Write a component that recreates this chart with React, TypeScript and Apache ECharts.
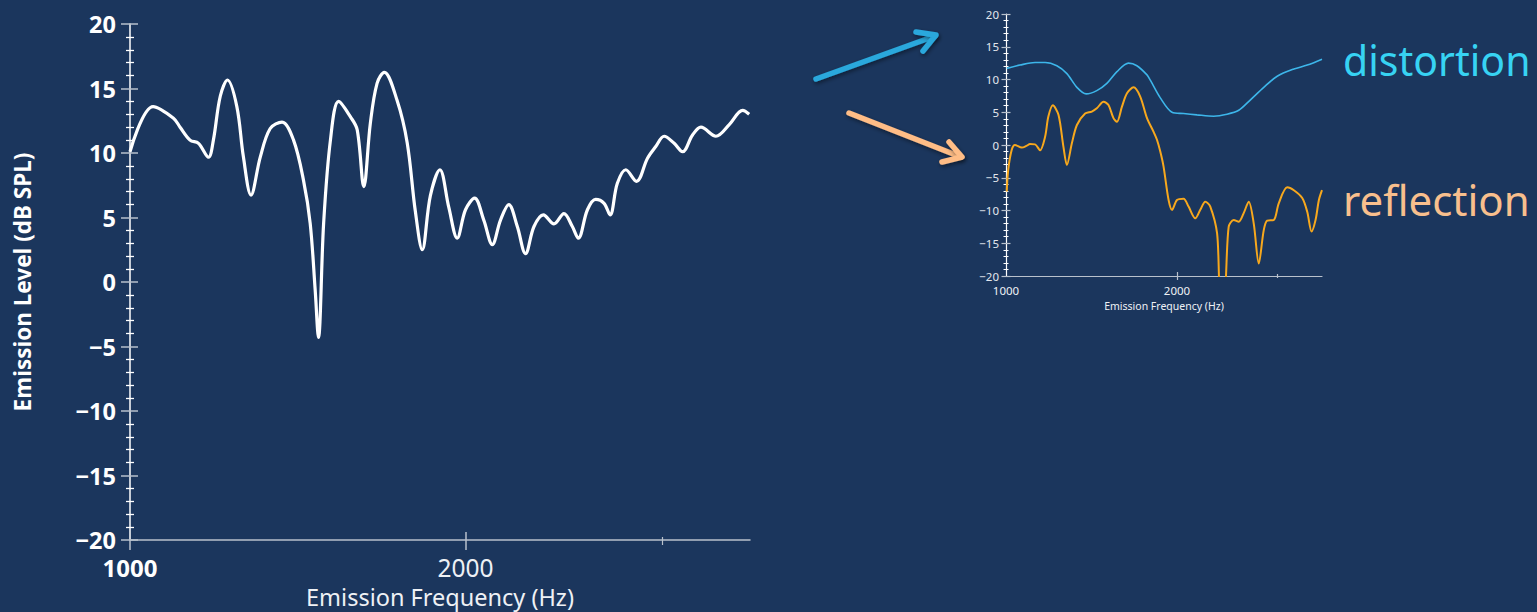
import React, { useEffect, useRef } from "react";
import * as echarts from "echarts";

// Main (left) chart: total emission
const mainFreq = [1000, 1049, 1094, 1109, 1132, 1152, 1176, 1188, 1205, 1223, 1247, 1264, 1284, 1309, 1336, 1369, 1402, 1431, 1451, 1466, 1476, 1492, 1513, 1539, 1577, 1599, 1621, 1643, 1666, 1691, 1736, 1773, 1803, 1829, 1860, 1897, 1932, 1966, 2000, 2038, 2077, 2114, 2150, 2187, 2226, 2264, 2304, 2349, 2401, 2451, 2494, 2525, 2573, 2617, 2663, 2696, 2737, 2785, 2847, 2913, 2963, 3015, 3078, 3132, 3197, 3253, 3355, 3449, 3546, 3594];
const mainLevel = [10.1, 13.6, 12.7, 12.0, 11.0, 10.75, 9.67, 11.0, 14.4, 15.66, 13.6, 9.7, 6.74, 9.7, 11.9, 12.4, 11.0, 7.9, 4.55, -0.6, -4.3, 4.6, 11.0, 14.0, 12.8, 11.8, 7.4, 12.3, 15.4, 16.25, 14.1, 10.8, 5.5, 2.5, 6.7, 8.7, 5.8, 3.4, 5.6, 6.5, 4.8, 2.9, 4.8, 6.0, 4.3, 2.2, 4.3, 5.2, 4.5, 5.3, 4.3, 3.4, 5.6, 6.4, 6.1, 5.2, 7.65, 8.7, 7.8, 9.6, 10.5, 11.3, 10.75, 10.1, 11.4, 12.0, 11.3, 12.2, 13.3, 13.0];

// Small (right) chart: distortion component
const distFreq = [1003, 1058, 1125, 1172, 1229, 1280, 1333, 1384, 1445, 1505, 1568, 1643, 1700, 1771, 1795, 1869, 1960, 2054, 2169, 2320, 2450, 2569, 2694, 2843, 3002, 3212, 3391, 3600];
const distLevel = [11.7, 12.2, 12.6, 12.6, 12.1, 10.9, 8.8, 7.8, 8.3, 9.4, 11.2, 12.5, 12.1, 10.7, 9.9, 7.2, 5.0, 4.8, 4.6, 4.4, 4.7, 5.3, 6.9, 8.8, 10.5, 11.6, 12.2, 13.1];

// Small (right) chart: reflection component
const reflFreq = [1003, 1009, 1023, 1037, 1066, 1088, 1102, 1125, 1148, 1172, 1187, 1209, 1237, 1262, 1280, 1306, 1333, 1378, 1416, 1445, 1485, 1515, 1546, 1568, 1600, 1633, 1677, 1723, 1771, 1819, 1844, 1869, 1894, 1933, 1960, 2000, 2054, 2096, 2154, 2198, 2243, 2289, 2353, 2384, 2423, 2466, 2517, 2569, 2621, 2675, 2730, 2786, 2843, 2883, 2961, 3021, 3127, 3212, 3323, 3391, 3451, 3507, 3555, 3600];
const reflLevel = [-7.1, -3.8, -0.8, 0.0, -0.4, -0.1, 0.15, 0.1, -0.8, 1.3, 4.3, 6.05, 4.6, -0.25, -3.05, 0.25, 3.05, 4.8, 5.1, 5.6, 6.6, 6.1, 4.1, 3.55, 5.85, 7.9, 8.8, 7.4, 4.1, 2.0, 0.8, -1.0, -3.3, -8.4, -9.9, -8.4, -8.2, -9.4, -11.2, -9.9, -8.65, -9.4, -13.5, -22, -22, -12.5, -11.45, -11.7, -10.4, -8.65, -12.0, -18.1, -13.0, -11.55, -11.45, -8.9, -6.45, -6.9, -8.1, -10.2, -13.2, -11.45, -8.4, -6.9];

// Axis settings
const freqMin = 1000;
const freqMax = 3600;
const levelMin = -20;
const levelMax = 20;
const levelInterval = 5;
const xLabelValues = [1000, 2000];
const xMajorTickValues = [2000];
const xMinorTickValues = [3000];

const BG = "#1b365d";
const FONT = "'Noto Sans', 'Open Sans', sans-serif";

const fmtLevel = (v: number) => (v < 0 ? "\u2212" + Math.abs(v) : String(v));

function buildXAxes(gridIndex: number, big: boolean) {
  const lineColor = "#b9c1cc";
  const base = {
    type: "log" as const,
    logBase: 10,
    gridIndex,
    min: freqMin,
    max: freqMax,
    position: "bottom" as const,
    offset: 0,
    splitLine: { show: false },
    minorTick: { show: false },
    minorSplitLine: { show: false },
  };
  return [
    {
      ...base,
      name: "Emission Frequency (Hz)",
      nameLocation: "middle",
      nameGap: big ? 47 : 24,
      nameTextStyle: { color: "#eef1f5", fontSize: big ? 23.5 : 10.5, lineHeight: big ? 20 : 12, fontFamily: FONT },
      axisLine: { show: true, onZero: false, lineStyle: { color: lineColor, width: big ? 1.5 : 1.2 } },
      axisTick: { show: true, customValues: big ? [1000, 2000] : [2000], length: big ? 10 : 4, inside: false, lineStyle: { color: lineColor, width: big ? 1.5 : 1.2 } },
      axisLabel: {
        show: true,
        customValues: xLabelValues,
        margin: big ? 15 : 8,
        color: "#ffffff",
        fontFamily: FONT,
        fontSize: big ? 24 : 11.5,
        formatter: (v: number) => (big && v === 1000 ? "{b|" + v + "}" : "{r|" + v + "}"),
        rich: {
          b: { fontWeight: "bold", fontSize: big ? 24 : 11.5, color: "#ffffff", fontFamily: FONT },
          r: { fontWeight: "normal", fontSize: big ? 24.5 : 11.5, color: "#eef1f5", fontFamily: FONT },
        },
      },
    },
    {
      ...base,
      axisLine: { show: false, onZero: false },
      axisLabel: { show: false },
      axisTick: { show: true, customValues: xMajorTickValues, length: big ? 8 : 4, inside: true, lineStyle: { color: lineColor, width: big ? 1.5 : 1.2 } },
    },
    {
      ...base,
      axisLine: { show: false, onZero: false },
      axisLabel: { show: false },
      axisTick: { show: true, customValues: xMinorTickValues, length: big ? 5 : 2, inside: false, lineStyle: { color: lineColor, width: 1.2 } },
    },
    {
      ...base,
      axisLine: { show: false, onZero: false },
      axisLabel: { show: false },
      axisTick: { show: true, customValues: xMinorTickValues, length: big ? 3 : 2, inside: true, lineStyle: { color: lineColor, width: 1.2 } },
    },
  ];
}

function buildYAxes(gridIndex: number, big: boolean) {
  const base = {
    type: "value" as const,
    gridIndex,
    min: levelMin,
    max: levelMax,
    interval: levelInterval,
    position: "left" as const,
    offset: 0,
    splitLine: { show: false },
  };
  const tickColor = "#b7c0cc";
  const minorColor = "#ffffff";
  return [
    {
      ...base,
      name: big ? "Emission Level (dB SPL)" : "",
      nameLocation: "middle",
      nameGap: big ? 96 : 0,
      nameRotate: 90,
      nameTextStyle: { color: "#ffffff", fontSize: 22.5, fontWeight: "bold", fontFamily: FONT },
      axisLine: { show: true, onZero: false, lineStyle: { color: "#ffffff", width: big ? 1.5 : 1.2 } },
      axisTick: { show: true, length: big ? 9 : 4.5, inside: false, lineStyle: { color: tickColor, width: big ? 1.5 : 1.2 } },
      minorTick: { show: true, splitNumber: 5, length: big ? 4 : 2.5, lineStyle: { color: minorColor, width: big ? 1.3 : 1 } },
      axisLabel: {
        show: true,
        margin: big ? 14 : 7,
        color: big ? "#ffffff" : "#e3e7ee",
        fontWeight: big ? "bold" : "normal",
        fontSize: big ? 23.5 : 11.5,
        fontFamily: FONT,
        formatter: fmtLevel,
      },
    },
    {
      ...base,
      axisLine: { show: false, onZero: false },
      axisLabel: { show: false },
      axisTick: { show: true, length: big ? 8 : 4.5, inside: true, lineStyle: { color: tickColor, width: big ? 1.5 : 1.2 } },
      minorTick: { show: true, splitNumber: 5, length: big ? 4 : 2.5, lineStyle: { color: minorColor, width: big ? 1.3 : 1 } },
    },
  ];
}

function pairs(xs: number[], ys: number[]) {
  return xs.map((x, i) => [x, ys[i]]);
}

export default function App() {
  const ref = useRef<HTMLDivElement>(null);

  useEffect(() => {
    if (!ref.current) return;
    const chart = echarts.init(ref.current, null, { renderer: "svg" });
    const xAxes = [...buildXAxes(0, true), ...buildXAxes(1, false)];
    const yAxes = [...buildYAxes(0, true), ...buildYAxes(1, false)];

    const arrowShadow = { shadowBlur: 4, shadowColor: "rgba(0,0,0,0.45)", shadowOffsetX: 1, shadowOffsetY: 2 };

    chart.setOption({
      animation: false,
      backgroundColor: BG,
      grid: [
        { left: 130, top: 24, width: 620, height: 516, outerBoundsMode: "none", containLabel: false },
        { left: 1006, top: 14, width: 316, height: 262, outerBoundsMode: "none", containLabel: false },
      ],
      xAxis: xAxes,
      yAxis: yAxes,
      series: [
        {
          type: "line",
          name: "emission",
          xAxisIndex: 0,
          yAxisIndex: 0,
          data: pairs(mainFreq, mainLevel),
          showSymbol: false,
          smooth: 0.35,
          lineStyle: { color: "#ffffff", width: 3.2 },
          clip: true,
        },
        {
          type: "line",
          name: "distortion",
          xAxisIndex: 4,
          yAxisIndex: 2,
          data: pairs(distFreq, distLevel),
          showSymbol: false,
          smooth: 0.3,
          lineStyle: { color: "#3db6ea", width: 1.6 },
          clip: true,
        },
        {
          type: "line",
          name: "reflection",
          xAxisIndex: 4,
          yAxisIndex: 2,
          data: pairs(reflFreq, reflLevel),
          showSymbol: false,
          smooth: 0.3,
          lineStyle: { color: "#f7a81d", width: 2 },
          clip: true,
        },
      ],
      graphic: [
        {
          type: "line",
          shape: { x1: 816, y1: 79, x2: 935, y2: 36 },
          style: { stroke: "#2aa8dc", lineWidth: 5.5, lineCap: "round", ...arrowShadow },
        },
        {
          type: "polyline",
          shape: { points: [[916, 32], [936, 35], [923, 51]] },
          style: { stroke: "#2aa8dc", lineWidth: 5.5, lineCap: "round", lineJoin: "round", fill: null, ...arrowShadow },
        },
        {
          type: "line",
          shape: { x1: 849, y1: 113, x2: 961, y2: 157 },
          style: { stroke: "#ffbd86", lineWidth: 5.5, lineCap: "round", ...arrowShadow },
        },
        {
          type: "polyline",
          shape: { points: [[949, 142], [962, 157], [942, 162]] },
          style: { stroke: "#ffbd86", lineWidth: 5.5, lineCap: "round", lineJoin: "round", fill: null, ...arrowShadow },
        },
        {
          type: "text",
          x: 1343,
          y: 60,
          style: { text: "distortion", fill: "#37d3f3", fontSize: 41, fontFamily: FONT, verticalAlign: "middle", align: "left" },
        },
        {
          type: "text",
          x: 1343,
          y: 199,
          style: { text: "reflection", fill: "#f8bf8d", fontSize: 42, fontFamily: FONT, verticalAlign: "middle", align: "left" },
        },
      ],
    });
    return () => chart.dispose();
  }, []);

  return (
    <div
      ref={ref}
      style={{ position: "absolute", left: 0, top: 0, width: 1537, height: 612, background: BG }}
    />
  );
}
